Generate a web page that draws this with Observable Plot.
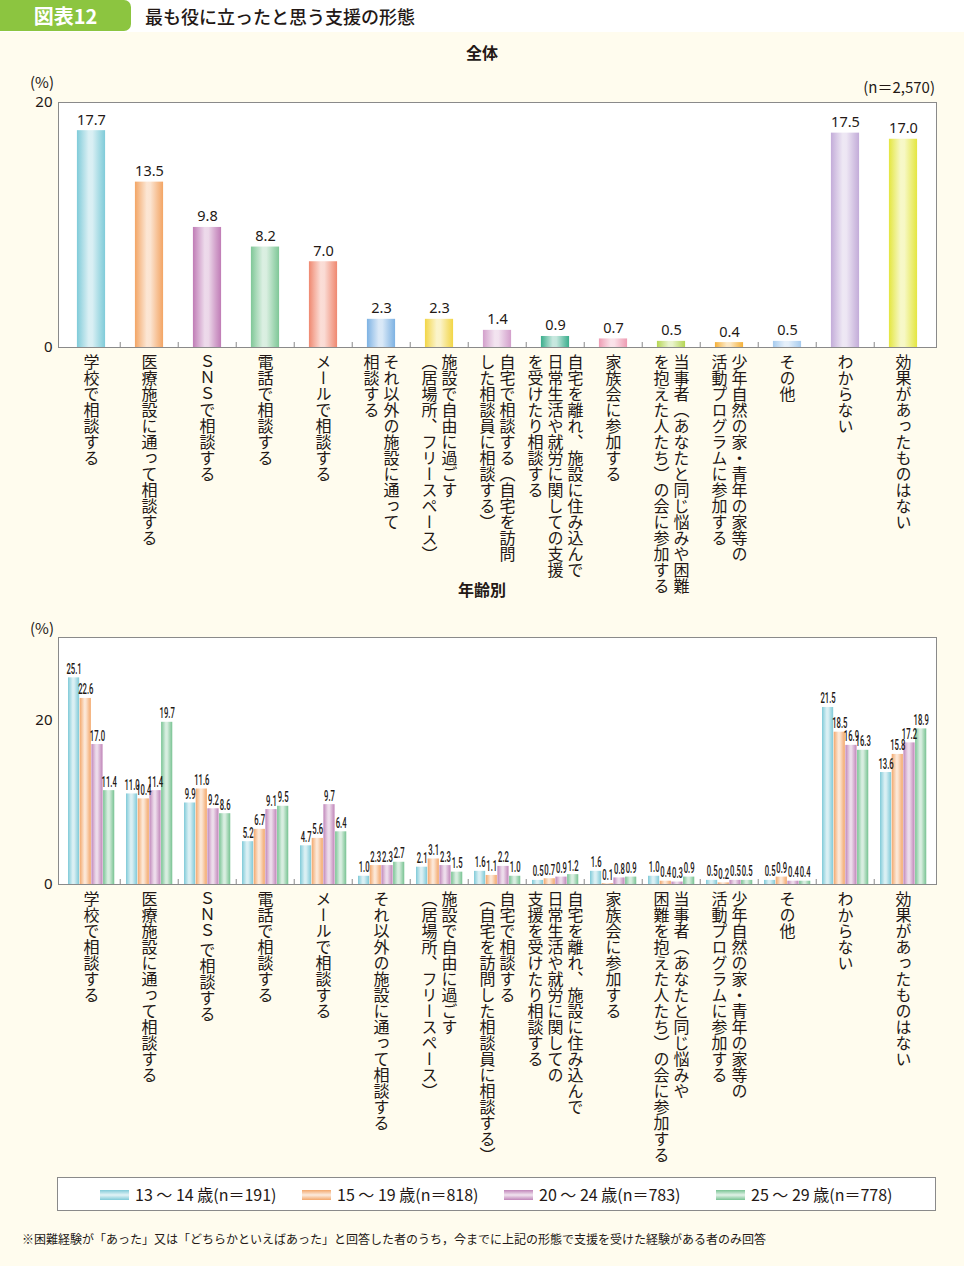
<!DOCTYPE html>
<html><head><meta charset="utf-8">
<script src="https://cdn.jsdelivr.net/npm/d3@7"></script>
<script src="https://cdn.jsdelivr.net/npm/@observablehq/plot@0.6"></script>
<style>
body{margin:0;background:#fff;}
#root{position:relative;width:964px;height:1266px;background:#fffcee;overflow:hidden;font-family:"Noto Sans CJK JP",sans-serif;color:#231815;}
.abs{position:absolute;white-space:nowrap;line-height:1;}
.chart{position:absolute;left:0;}
g[aria-description="xlab"] text{writing-mode:vertical-rl;text-orientation:mixed;}
</style></head>
<body><div id="root"></div>
<script>
// ---------- data ----------
const categories = ["school","medical","sns","phone","mail","otherfac","freespace","home","residential","family","peer","nature","other","dontknow","none"];
const topLabels = [
  "学校で相談する",
  "医療施設に通って相談する",
  "ＳＮＳで相談する",
  "電話で相談する",
  "メールで相談する",
  "それ以外の施設に通って\n相談する",
  "施設で自由に過ごす\n（居場所、フリースペース）",
  "自宅で相談する（自宅を訪問\nした相談員に相談する）",
  "自宅を離れ、施設に住み込んで\n日常生活や就労に関しての支援\nを受けたり相談する",
  "家族会に参加する",
  "当事者（あなたと同じ悩みや困難\nを抱えた人たち）の会に参加する",
  "少年自然の家・青年の家等の\n活動プログラムに参加する",
  "その他",
  "わからない",
  "効果があったものはない"
];
const bottomLabels = [
  "学校で相談する",
  "医療施設に通って相談する",
  "ＳＮＳ で相談する",
  "電話で相談する",
  "メールで相談する",
  "それ以外の施設に通って相談する",
  "施設で自由に過ごす\n（居場所、フリースペース）",
  "自宅で相談する\n（自宅を訪問した相談員に相談する）",
  "自宅を離れ、施設に住み込んで\n日常生活や就労に関しての\n支援を受けたり相談する",
  "家族会に参加する",
  "当事者（あなたと同じ悩みや\n困難を抱えた人たち）の会に参加する",
  "少年自然の家・青年の家等の\n活動プログラムに参加する",
  "その他",
  "わからない",
  "効果があったものはない"
];
const overallValues = [17.7, 13.5, 9.8, 8.2, 7.0, 2.3, 2.3, 1.4, 0.9, 0.7, 0.5, 0.4, 0.5, 17.5, 17.0];
const ageGroups = ["13 ～ 14 歳(n＝191)", "15 ～ 19 歳(n＝818)", "20 ～ 24 歳(n＝783)", "25 ～ 29 歳(n＝778)"];
const age13_14 = [25.1, 11.0, 9.9, 5.2, 4.7, 1.0, 2.1, 1.6, 0.5, 1.6, 1.0, 0.5, 0.5, 21.5, 13.6];
const age15_19 = [22.6, 10.4, 11.6, 6.7, 5.6, 2.3, 3.1, 1.1, 0.7, 0.1, 0.4, 0.2, 0.9, 18.5, 15.8];
const age20_24 = [17.0, 11.4, 9.2, 9.1, 9.7, 2.3, 2.3, 2.2, 0.9, 0.8, 0.3, 0.5, 0.4, 16.9, 17.2];
const age25_29 = [11.4, 19.7, 8.6, 9.5, 6.4, 2.7, 1.5, 1.0, 1.2, 0.9, 0.9, 0.5, 0.4, 16.3, 18.9];
const topTicks = [0, 20];
const bottomTicks = [0, 20];
const sampleNote = "(n＝2,570)";
const footnote = "※困難経験が「あった」又は「どちらかといえばあった」と回答した者のうち，今までに上記の形態で支援を受けた経験がある者のみ回答";

// ---------- styles ----------
const topColors = ["#7fcbd9","#f3a565","#c07cb6","#7fc797","#ef8870","#7db2e3","#f2d646","#d39fcb","#3aae8c","#ee9cb3","#b5d653","#f5b038","#a6cbee","#c3acd9","#e4e63f"];
const ageColors = ["#80cad8","#f3a86c","#c085b9","#78c393"];
const ink = "#231815";

// gradients
const defsSvg = d3.select("body").append("svg").attr("width",0).attr("height",0).style("position","absolute");
const defs = defsSvg.append("defs");
function addGrad(id, base) {
  const mix = t => d3.interpolateRgb(base, "#ffffff")(t);
  const g = defs.append("linearGradient").attr("id", id).attr("x1",0).attr("x2",1).attr("y1",0).attr("y2",0);
  [[0, base],[0.2, mix(0.35)],[0.42, mix(0.72)],[0.55, mix(0.7)],[0.8, mix(0.3)],[1, base]]
    .forEach(([o,c]) => g.append("stop").attr("offset",o).attr("stop-color",c));
}
topColors.forEach((c,i) => addGrad("gt"+i, c));
ageColors.forEach((c,i) => addGrad("gb"+i, c));

const root = d3.select("#root");
function addText(txt, css) {
  const el = root.append("div").attr("class","abs").text(txt);
  Object.entries(css).forEach(([k,v]) => el.style(k, v));
  return el;
}

// header
root.append("div").style("position","absolute").style("left","0").style("top","0").style("width","964px").style("height","32px").style("background","#fff");
root.append("div").style("position","absolute").style("left","0").style("top","0").style("width","131px").style("height","31px")
  .style("background","#8cc540").style("border-radius","0 7px 7px 0");
addText("図表12", {left:"0px", top:"6px", width:"131px", "text-align":"center", color:"#fff", "font-size":"20px", "font-weight":"700"});
addText("最も役に立ったと思う支援の形態", {left:"145px", top:"7px", "font-size":"18px", "font-weight":"500"});
addText("全体", {left:"0px", width:"964px", "text-align":"center", top:"44px", "font-size":"16px", "font-weight":"700"});
addText("(%)", {left:"30px", top:"74px", "font-size":"15px"});
addText(sampleNote, {right:"29px", top:"79px", "font-size":"15px"});
addText("年齢別", {left:"0px", width:"964px", "text-align":"center", top:"581px", "font-size":"16px", "font-weight":"700"});
addText("(%)", {left:"30px", top:"620px", "font-size":"15px"});

const ML = 58, MR = 28, W = 964;
const bw = (W - ML - MR) / categories.length;

function labelMarks(labels) {
  const entries = [];
  labels.forEach((lab, k) => {
    const lines = lab.split("\n");
    const n = lines.length;
    lines.forEach((line, i) => entries.push({cat: categories[k], line, off: ((n - 1) / 2 - i) * 20}));
  });
  const offs = [...new Set(entries.map(e => e.off))];
  return offs.map(o => Plot.text(entries.filter(e => e.off === o), {
    x: "cat", y: () => 0, text: "line", dx: o, dy: 6,
    textAnchor: "start", lineAnchor: "bottom", fontSize: 16, fill: ink,
    fontFamily: "Noto Sans CJK JP", ariaDescription: "xlab"
  }));
}
function boundaryTicks() {
  return Plot.ruleX(categories.slice(1), {x: d => d, dx: -bw / 2, y1: () => 0, y2: () => 0, insetTop: -5, stroke: "#8a8a8a"});
}

// ---------- top chart ----------
const topData = categories.map((c, i) => ({cat: c, v: overallValues[i], fill: `url(#gt${i})`}));
const barW = 28.7;
const topPlot = Plot.plot({
  width: W, height: 497, marginTop: 42, marginBottom: 210, marginLeft: ML, marginRight: MR,
  x: {domain: categories, padding: 0, axis: null},
  y: {domain: [0, 20]},
  color: {type: "identity"},
  style: {background: "transparent", overflow: "visible", color: ink},
  marks: [
    Plot.frame({fill: "#ffffff", stroke: "none"}),
    Plot.barY(topData, {x: "cat", y: "v", fill: "fill", insetLeft: (bw - barW) / 2, insetRight: (bw - barW) / 2}),
    Plot.text(topData, {x: "cat", y: "v", text: d => d.v.toFixed(1), dy: -6, lineAnchor: "bottom", fontSize: 14.5, fill: ink, fontFamily: "Noto Sans"}),
    boundaryTicks(),
    ...labelMarks(topLabels),
    Plot.axisY({ticks: topTicks, tickSize: 0, tickPadding: 6, fontSize: 15, label: null, fontFamily: "Noto Sans", fill: ink}),
    Plot.frame({stroke: "#8a8a8a"})
  ]
});
d3.select(topPlot).attr("class","chart").style("top","60px");
root.node().appendChild(topPlot);

// ---------- bottom chart ----------
const series = [age13_14, age15_19, age20_24, age25_29];
const gap = 6, sw = 11.7;
const bottomMarks = [Plot.frame({fill: "#ffffff", stroke: "none"})];
series.forEach((vals, si) => {
  const data = categories.map((c, i) => ({cat: c, v: vals[i]}));
  bottomMarks.push(Plot.barY(data, {x: "cat", y: "v", fill: `url(#gb${si})`,
    insetLeft: gap + si * sw, insetRight: bw - gap - (si + 1) * sw}));
});
series.forEach((vals, si) => {
  const data = categories.map((c, i) => ({cat: c, v: vals[i]}));
  bottomMarks.push(Plot.text(data, {x: "cat", y: "v", text: d => d.v.toFixed(1),
    dx: gap + (si + 0.5) * sw - bw / 2, dy: -4, lineAnchor: "bottom",
    fontSize: 14, fontWeight: 500, fill: ink, fontFamily: "Roboto, sans-serif", ariaDescription: "vlab"}));
});
bottomMarks.push(boundaryTicks());
bottomMarks.push(...labelMarks(bottomLabels));
bottomMarks.push(Plot.axisY({ticks: bottomTicks, tickSize: 0, tickPadding: 6, fontSize: 15, label: null, fontFamily: "Noto Sans", fill: ink}));
bottomMarks.push(Plot.frame({stroke: "#8a8a8a"}));
const bottomPlot = Plot.plot({
  width: W, height: 564, marginTop: 37, marginBottom: 280, marginLeft: ML, marginRight: MR,
  x: {domain: categories, padding: 0, axis: null},
  y: {domain: [0, 30]},
  style: {background: "transparent", overflow: "visible", color: ink},
  marks: bottomMarks
});
d3.select(bottomPlot).attr("class","chart").style("top","600px");
root.node().appendChild(bottomPlot);
// condense the value labels (the reference uses a condensed face)
d3.select(bottomPlot).selectAll('g[aria-description="vlab"] text').each(function() {
  const len = this.getComputedTextLength();
  if (len > 0) {
    this.setAttribute("textLength", (len * 0.55).toFixed(2));
    this.setAttribute("lengthAdjust", "spacingAndGlyphs");
  }
});

// ---------- legend ----------
root.append("div").style("position","absolute").style("left","57px").style("top","1177px")
  .style("width","877px").style("height","32px").style("background","#fff").style("border","1px solid #8a8a8a");
const legendX = [100, 302, 504, 716];
ageGroups.forEach((g, i) => {
  const c = ageColors[i];
  const light = d3.interpolateRgb(c, "#fff")(0.7);
  root.append("div").style("position","absolute").style("left", legendX[i] + "px").style("top","1190px")
    .style("width","29px").style("height","10px")
    .style("background", `linear-gradient(to bottom, ${c}, ${light} 45%, ${light} 55%, ${c})`);
  addText(g, {left: (legendX[i] + 35) + "px", top: "1186px", "font-size": "16px"});
});
addText(footnote, {left: "22px", top: "1233px", "font-size": "12px"});
</script>
</body></html>
